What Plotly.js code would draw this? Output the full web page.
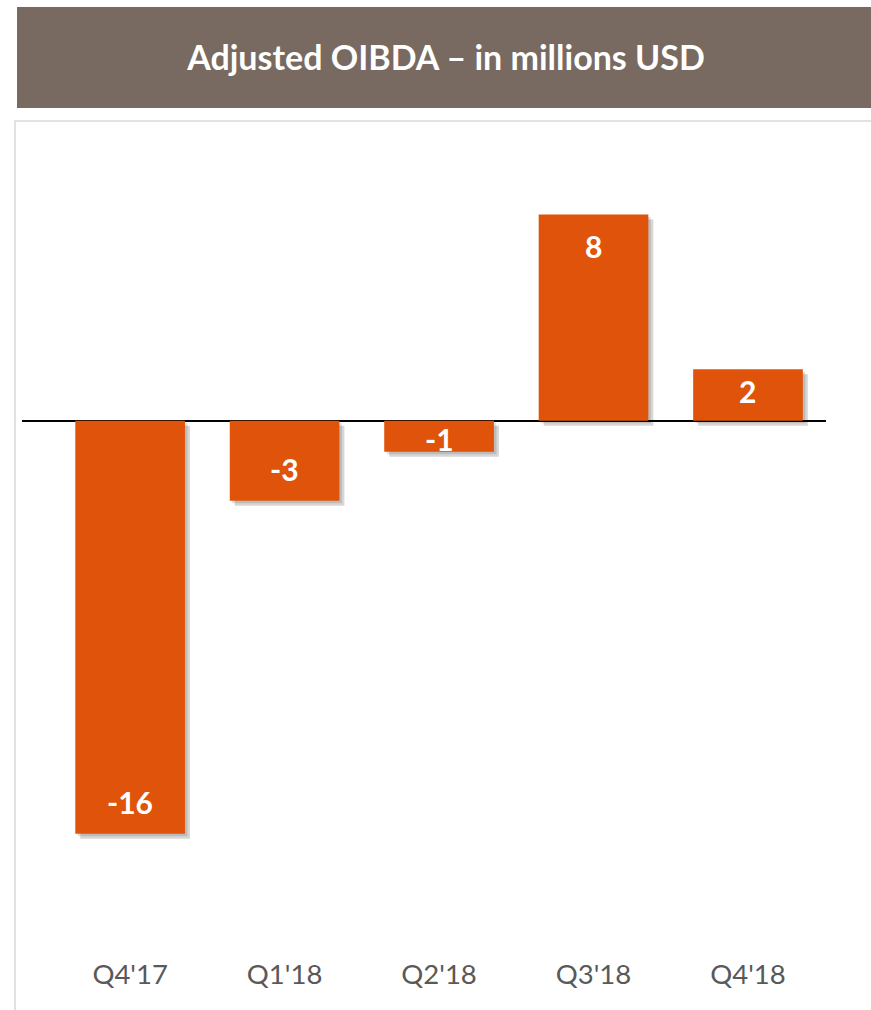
<!DOCTYPE html>
<html>
<head>
<meta charset="utf-8">
<script src="https://cdn.plot.ly/plotly-3.0.1.min.js"></script>
<style>html,body{margin:0;padding:0;background:#fff;}#chart{width:871px;height:1010px;}</style>
</head>
<body>
<div id="chart"></div>
<script>
const categories = ["Q4'17", "Q1'18", "Q2'18", "Q3'18", "Q4'18"];
const values = [-16.0, -3.1, -1.2, 8.0, 2.0];
const labels = ["-16", "-3", "-1", "8", "2"];
const titleText = "Adjusted OIBDA \u2013 in millions USD";

const W = 871, H = 1010;
const mL = 22, mR = 45, mT = 137, mB = 73;
const plotW = W - mL - mR, plotH = H - mT - mB;
const yMin = -20, yMax = 11;
const xMin = -0.7, xMax = 4.505;
const pxPerY = plotH / (yMax - yMin);
const pxPerX = plotW / (xMax - xMin);
const px2paperX = p => (p - mL) / plotW;
const px2paperY = p => (H - mB - p) / plotH;

const idx = categories.map((c, i) => i);
const barColor = '#E0530A';

const shadowShiftX = 5 / pxPerX;
const shadowShiftY = 5 / pxPerY;

const shadow = {
  type: 'bar', x: idx.map(i => i + shadowShiftX), y: values,
  base: values.map(() => -shadowShiftY),
  width: 0.71, marker: {color: 'rgba(0,0,0,0.16)'}, hoverinfo: 'skip', showlegend: false
};
const shadow2 = {
  type: 'bar', x: idx.map(i => i + shadowShiftX * 0.5), y: values,
  base: values.map(() => -shadowShiftY * 0.5),
  width: 0.71, marker: {color: 'rgba(0,0,0,0.12)'}, hoverinfo: 'skip', showlegend: false
};
const main = {
  type: 'bar', x: idx, y: values, width: 0.71,
  marker: {color: barColor}, showlegend: false
};

const annotations = values.map((v, i) => {
  const hpx = Math.abs(v) * pxPerY;
  const off = Math.min(32, 0.42 * hpx);
  const y = v - Math.sign(v) * (off / pxPerY);
  return {
    x: i, y: y, xref: 'x', yref: 'y', text: '<b>' + labels[i] + '</b>', showarrow: false,
    font: {family: 'Lato, "Open Sans", sans-serif', size: 30, color: '#ffffff'},
    xanchor: 'center', yanchor: 'middle'
  };
});

const shapes = [
  {type: 'rect', xref: 'paper', yref: 'paper', layer: 'below',
   x0: px2paperX(15), x1: px2paperX(880), y0: px2paperY(1020), y1: px2paperY(121),
   line: {color: '#D9D9D9', width: 1.5}, fillcolor: '#ffffff'},
  {type: 'rect', xref: 'paper', yref: 'paper', layer: 'below',
   x0: px2paperX(17), x1: px2paperX(875), y0: px2paperY(108), y1: px2paperY(7),
   line: {width: 0}, fillcolor: '#786A60'}
];

const layout = {
  width: W, height: H,
  margin: {l: mL, r: mR, t: mT, b: mB},
  paper_bgcolor: '#ffffff', plot_bgcolor: 'rgba(0,0,0,0)',
  barmode: 'overlay',
  title: {text: '<b>' + titleText + '</b>', x: px2paperX(446), xref: 'paper', xanchor: 'center',
          y: 1 - 58 / H, yref: 'container', yanchor: 'middle',
          font: {family: 'Lato, "Open Sans", sans-serif', size: 34, color: '#ffffff'}},
  xaxis: {range: [xMin, xMax], tickmode: 'array', tickvals: idx, ticktext: categories,
          showgrid: false, zeroline: false, showline: false,
          ticks: 'outside', ticklen: 13, tickcolor: 'rgba(0,0,0,0)',
          tickfont: {family: 'Lato, "Open Sans", sans-serif', size: 27.5, color: '#595959'}},
  yaxis: {range: [yMin, yMax], showgrid: false, showticklabels: false,
          zeroline: true, zerolinecolor: '#000000', zerolinewidth: 1.5, showline: false},
  shapes: shapes,
  annotations: annotations
};

Plotly.newPlot('chart', [shadow, shadow2, main], layout, {displayModeBar: false, staticPlot: true});
</script>
</body>
</html>
